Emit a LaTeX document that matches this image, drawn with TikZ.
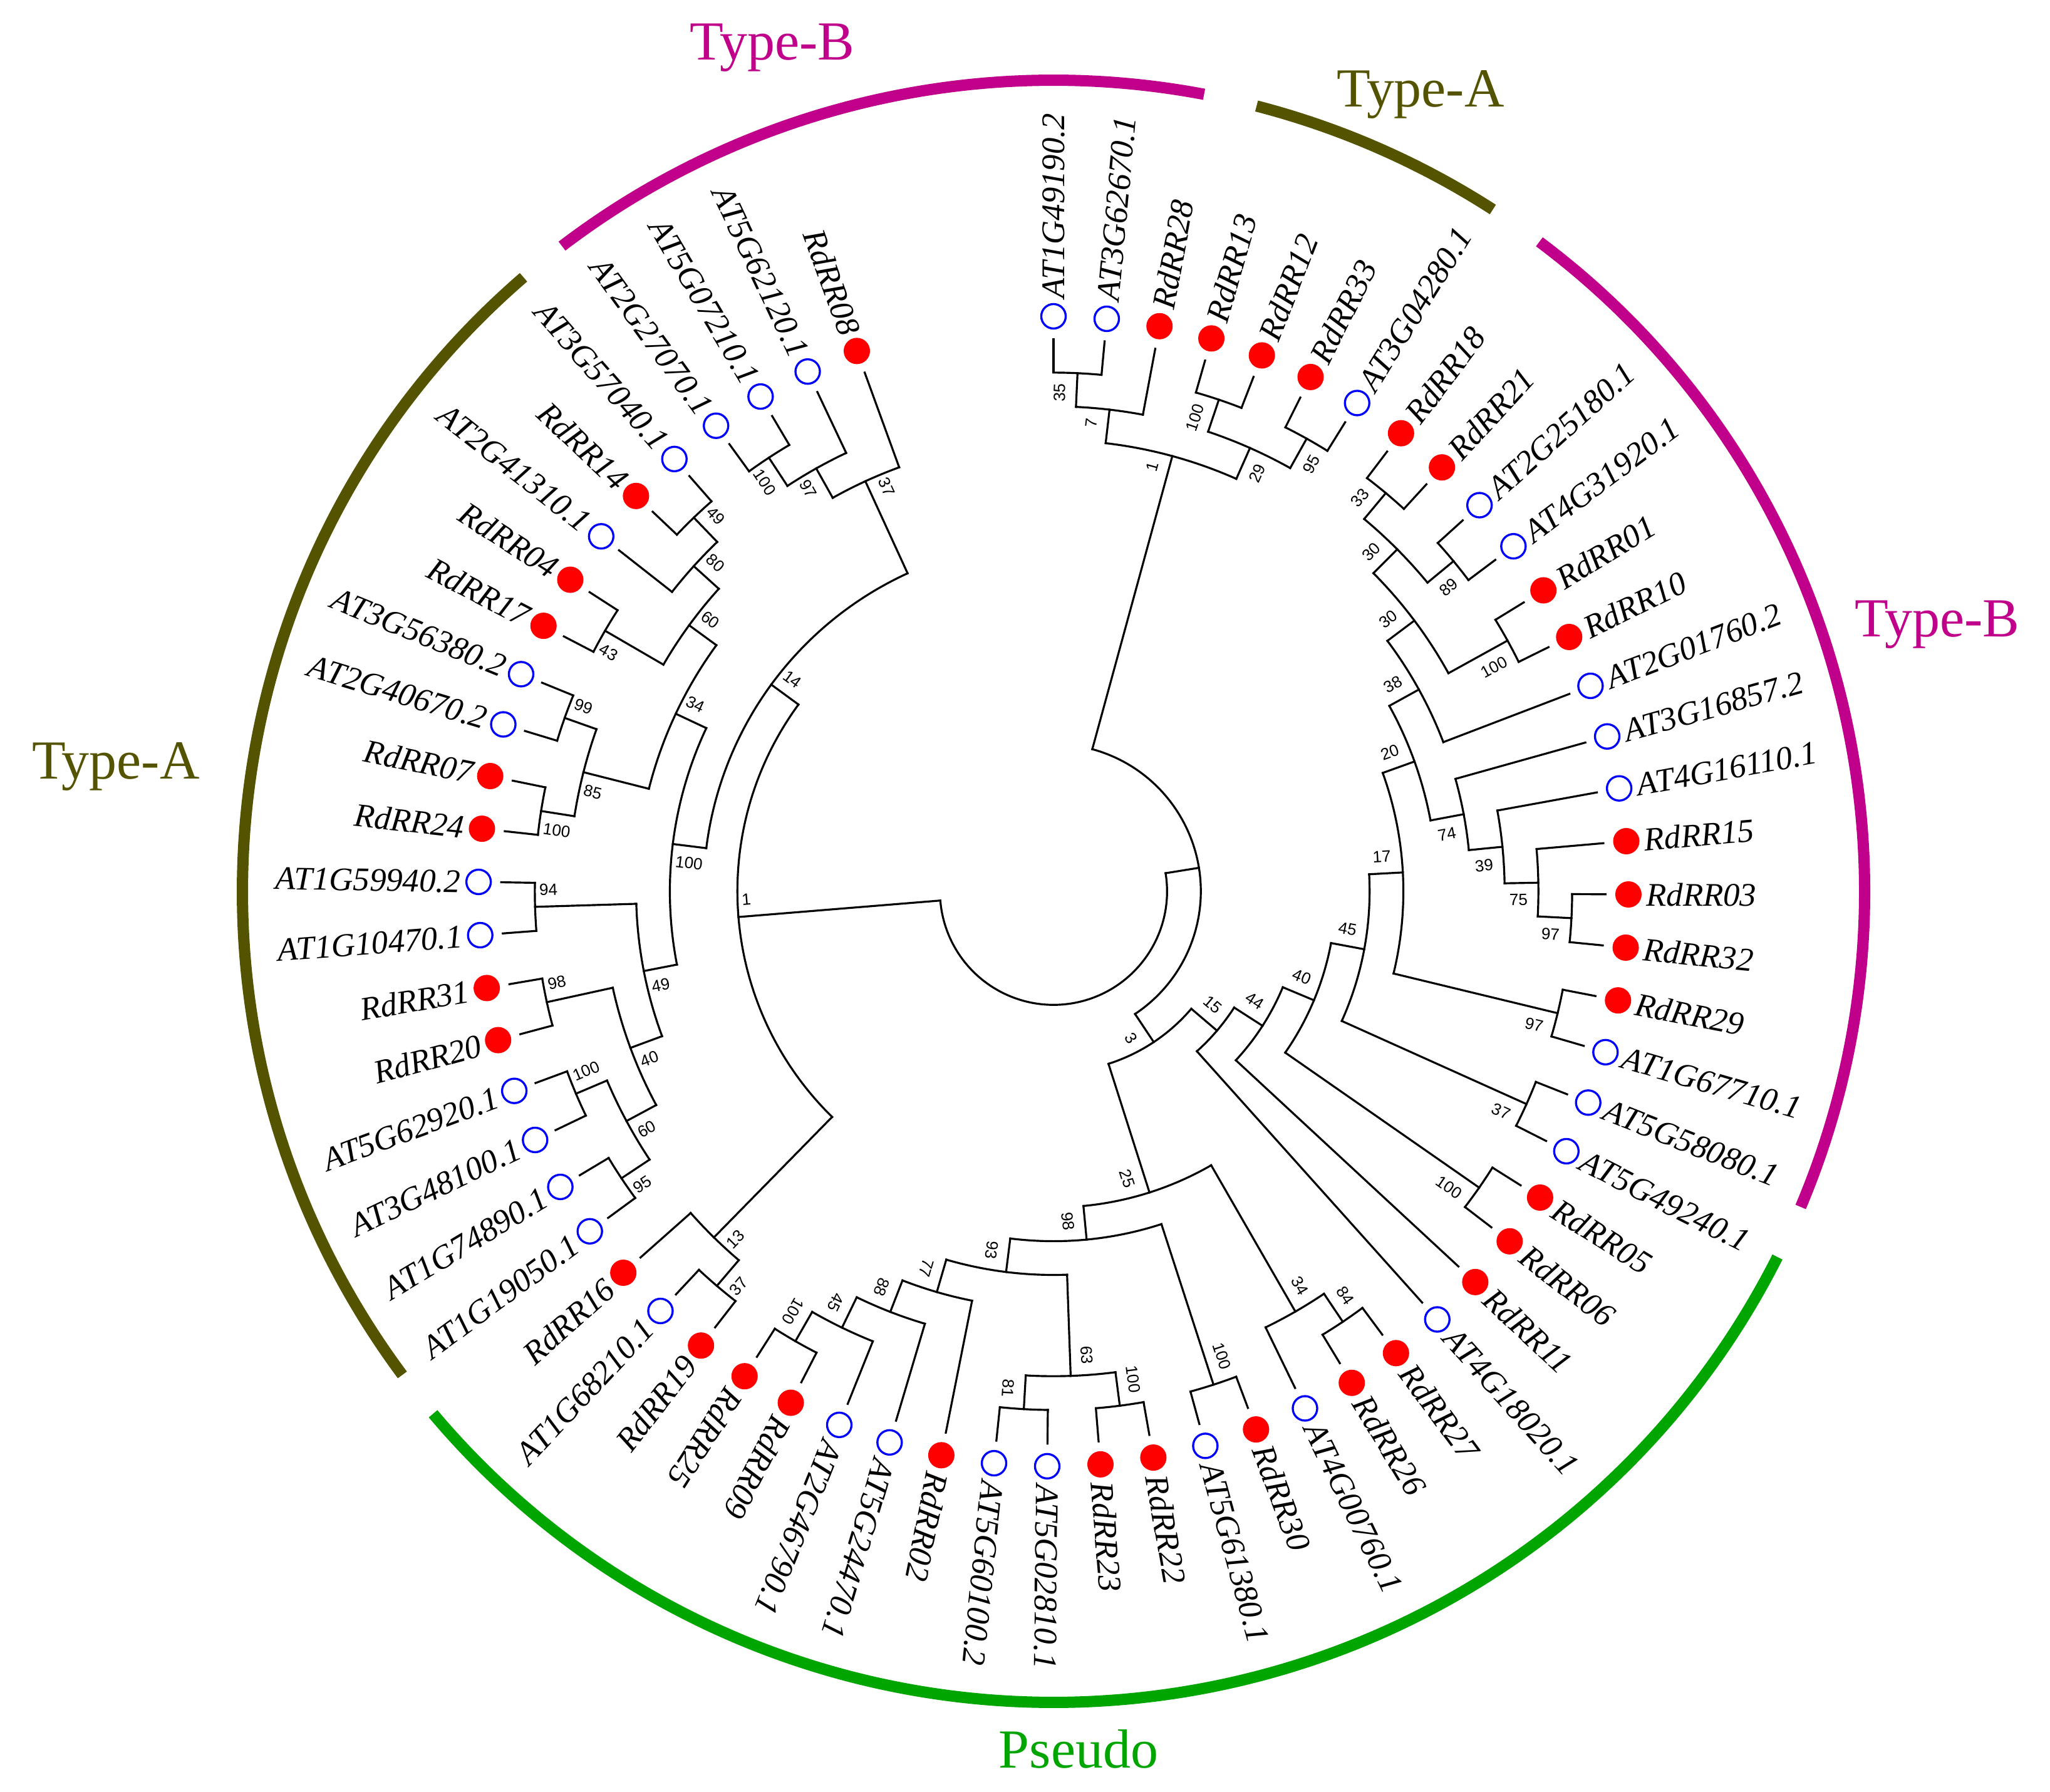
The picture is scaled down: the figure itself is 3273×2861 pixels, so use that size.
\documentclass[tikz,border=0pt]{standalone}
\usepackage{fontspec}
\setmainfont{Liberation Serif}
\newfontfamily\bootfont{Liberation Sans}
\usetikzlibrary{calc}
\definecolor{typeBcol}{RGB}{192,0,138}
\definecolor{typeAcol}{RGB}{84,84,0}
\definecolor{pseudocol}{RGB}{0,165,0}
\def\dang{5.3125}
\tikzset{
  branch/.style={line width=0.9pt, line cap=rect},
  rdot/.style={circle, fill=red, minimum size=0.42cm, inner sep=0pt},
  bcirc/.style={circle, draw=blue, line width=0.95pt, minimum size=0.39cm, inner sep=0pt},
  lab/.style={font=\fontsize{15}{18}\selectfont\itshape, inner sep=0pt},
  leafR/.style={lab, anchor=west, rotate=\angL},
  leafL/.style={lab, anchor=east, rotate=\angL+180},
  boot/.style={font=\bootfont\fontsize{7.4}{9}\selectfont, inner ysep=0.17cm},
  bootra/.style={boot, inner xsep=0.17cm, anchor=south east, rotate=\angM},
  bootrb/.style={boot, inner xsep=0.17cm, anchor=north east, rotate=\angM},
  bootla/.style={boot, inner xsep=0.07cm, anchor=north west, rotate=\angM+180},
  bootlb/.style={boot, inner xsep=0.07cm, anchor=south west, rotate=\angM+180},
  grouparc/.style={line width=0.18cm},
  grouplab/.style={font=\fontsize{25}{30}\selectfont, anchor=base},
}
% clade: name, first child, last child, level, parent level, bootstrap, label style
\newcommand\clade[7]{%
  \pgfmathsetmacro\angA{90-(#2-1)*\dang}
  \pgfmathsetmacro\angB{90-(#3-1)*\dang}
  \pgfmathsetmacro\angM{90-((#2+#3)/2-1)*\dang}
  \pgfmathsetmacro\radN{882-53.9*#4}
  \pgfmathsetmacro\radP{882-53.9*#5}
  \coordinate (#1) at (\angM:\radN);
  \draw[branch] (\angA:\radN) arc[start angle=\angA, end angle=\angB, radius=\radN];
  \draw[branch] (\angM:\radP) -- (#1);
  \if\relax\detokenize{#6}\relax\else\node[#7] (b#1) at (#1) {#6};\fi
}
% leaf: index, marker, name, parent level, side
\newcommand\leaf[5]{%
  \pgfmathsetmacro\angL{90-(#1-1)*\dang}
  \pgfmathsetmacro\radP{882-53.9*#4}
  \node[#2] (l#1) at (\angL:918) {};
  \draw[branch, shorten >=0.15cm] (\angL:\radP) -- (l#1);
  \node[leaf#5] (t#1) at (\angL:946) {#3};
}

\begin{document}
\begin{tikzpicture}[x=0.01cm, y=0.01cm]
\useasboundingbox (-1682,-1438) rectangle (1591,1423);
%%%%% ROOT %%%%%
\pgfmathsetmacro\angA{90-(16.214599609375-1)*\dang}
\pgfmathsetmacro\angB{90-(50.9453125-1)*\dang}
\pgfmathsetmacro\angM{90-(33.580078125-1)*\dang}
\coordinate (root) at (\angM:181.3);
\draw[branch] (\angA:181.3) arc[start angle=\angA, end angle=\angB, radius=181.3];
\clade{nA2}{3.875}{28.55419921875}{12}{13}{}{bootra}

%%%%% TOP CLADE %%%%%
\clade{n35a}{1}{2}{1}{2}{35}{bootra}
\clade{n7a}{1.5}{3}{2}{3}{7}{bootra}
\clade{n100a}{4}{5}{1}{2}{100}{bootra}
\clade{n95a}{6}{7}{1}{2}{95}{bootrb}
\clade{n29a}{4.5}{6.5}{2}{3}{29}{bootrb}
\clade{n1a}{2.25}{5.5}{3}{12}{1}{bootra}

%%%%% RIGHT CLADE %%%%%
\clade{n33a}{8}{9}{1}{2}{33}{bootra}
\clade{n89a}{10}{11}{1}{2}{89}{bootrb}
\clade{n30a}{8.5}{10.5}{2}{3}{30}{bootra}
\clade{n100b}{12}{13}{1}{3}{100}{bootrb}
\clade{n30b}{9.5}{12.5}{3}{4}{30}{bootra}
\clade{n38a}{11}{14}{4}{5}{38}{bootra}
\clade{n97a}{18}{19}{1}{2}{97}{bootrb}
\clade{n75a}{17}{18.5}{2}{3}{75}{bootrb}
\clade{n39a}{16}{17.75}{3}{4}{39}{bootrb}
\clade{n74a}{15}{16.875}{4}{5}{74}{bootrb}
\clade{n20a}{12.5}{15.9375}{5}{6}{20}{bootra}
\clade{n97b}{20}{21}{1}{6}{97}{bootrb}
\clade{n17a}{14.21875}{20.5}{6}{7}{17}{bootra}
\clade{n37a}{22}{23}{1}{7}{37}{bootrb}
\clade{n45a}{17.359375}{22.5}{7}{8}{45}{bootra}
\clade{n100c}{24}{25}{1}{8}{100}{bootrb}
\clade{n40a}{19.9296875}{24.5}{8}{9}{40}{bootra}
\clade{n44a}{22.21484375}{26}{9}{10}{44}{bootra}
\clade{n15a}{24.107421875}{27}{10}{11}{15}{bootra}

%%%%% BOTTOM CLADE %%%%%
\clade{n84a}{28}{29}{1}{2}{84}{bootra}
\clade{n34a}{28.5}{30}{2}{7}{34}{bootra}
\clade{n100e}{31}{32}{1}{6}{100}{bootra}
\clade{n100f}{33}{34}{1}{2}{100}{bootra}
\clade{n81a}{35}{36}{1}{2}{81}{bootrb}
\clade{n63a}{33.5}{35.5}{2}{5}{63}{bootra}
\clade{n100g}{40}{41}{1}{2}{100}{bootrb}
\clade{n45b}{39}{40.5}{2}{3}{45}{bootrb}
\clade{n88a}{38}{39.75}{3}{4}{88}{bootrb}
\clade{n77a}{37}{38.875}{4}{5}{77}{bootrb}
\clade{n93a}{34.5}{37.9375}{5}{6}{93}{bootrb}
\clade{n98a}{31.5}{36.21875}{6}{7}{98}{bootrb}
\clade{n25a}{29.25}{33.859375}{7}{11}{25}{bootrb}
\clade{n3a}{25.5537109375}{31.5546875}{11}{12}{3}{bootrb}

%%%%% LEFT CLADE %%%%%
\clade{n37c}{42}{43}{1}{2}{37}{bootla}
\clade{n13a}{42.5}{44}{2}{7}{13}{bootla}
\clade{n95b}{45}{46}{1}{2}{95}{bootla}
\clade{n100k}{47}{48}{1}{2}{100}{bootlb}
\clade{n60b}{45.5}{47.5}{2}{3}{60}{bootla}
\clade{n98b}{49}{50}{1}{3}{98}{bootlb}
\clade{n40b}{46.5}{49.5}{3}{4}{40}{bootla}
\clade{n94a}{51}{52}{1}{4}{94}{bootlb}
\clade{n49b}{48}{51.5}{4}{5}{49}{bootla}
\clade{n100j}{53}{54}{1}{2}{100}{bootla}
\clade{n99a}{55}{56}{1}{2}{99}{bootlb}
\clade{n85a}{53.5}{55.5}{2}{4}{85}{bootla}
\clade{n43a}{57}{58}{1}{3}{43}{bootla}
\clade{n49c}{60}{61}{1}{2}{49}{bootlb}
\clade{n80a}{59}{60.5}{2}{3}{80}{bootlb}
\clade{n60c}{57.5}{59.75}{3}{4}{60}{bootlb}
\clade{n34b}{54.5}{58.625}{4}{5}{34}{bootlb}
\clade{n100l}{49.75}{56.5625}{5}{6}{100}{bootla}
\clade{n100i}{62}{63}{1}{2}{100}{bootla}
\clade{n97c}{62.5}{64}{2}{3}{97}{bootla}
\clade{n37d}{63.25}{65}{3}{6}{37}{bootlb}
\clade{n14a}{53.15625}{64.125}{6}{7}{14}{bootlb}
\clade{n1b}{43.25}{58.640625}{7}{13}{1}{bootlb}

%%%%% LEAVES %%%%%
\leaf{1}{bcirc}{AT1G49190.2}{1}{R}
\leaf{2}{bcirc}{AT3G62670.1}{1}{R}
\leaf{3}{rdot}{RdRR28}{2}{R}
\leaf{4}{rdot}{RdRR13}{1}{R}
\leaf{5}{rdot}{RdRR12}{1}{R}
\leaf{6}{rdot}{RdRR33}{1}{R}
\leaf{7}{bcirc}{AT3G04280.1}{1}{R}
\leaf{8}{rdot}{RdRR18}{1}{R}
\leaf{9}{rdot}{RdRR21}{1}{R}
\leaf{10}{bcirc}{AT2G25180.1}{1}{R}
\leaf{11}{bcirc}{AT4G31920.1}{1}{R}
\leaf{12}{rdot}{RdRR01}{1}{R}
\leaf{13}{rdot}{RdRR10}{1}{R}
\leaf{14}{bcirc}{AT2G01760.2}{4}{R}
\leaf{15}{bcirc}{AT3G16857.2}{4}{R}
\leaf{16}{bcirc}{AT4G16110.1}{3}{R}
\leaf{17}{rdot}{RdRR15}{2}{R}
\leaf{18}{rdot}{RdRR03}{1}{R}
\leaf{19}{rdot}{RdRR32}{1}{R}
\leaf{20}{rdot}{RdRR29}{1}{R}
\leaf{21}{bcirc}{AT1G67710.1}{1}{R}
\leaf{22}{bcirc}{AT5G58080.1}{1}{R}
\leaf{23}{bcirc}{AT5G49240.1}{1}{R}
\leaf{24}{rdot}{RdRR05}{1}{R}
\leaf{25}{rdot}{RdRR06}{1}{R}
\leaf{26}{rdot}{RdRR11}{9}{R}
\leaf{27}{bcirc}{AT4G18020.1}{10}{R}
\leaf{28}{rdot}{RdRR27}{1}{R}
\leaf{29}{rdot}{RdRR26}{1}{R}
\leaf{30}{bcirc}{AT4G00760.1}{2}{R}
\leaf{31}{rdot}{RdRR30}{1}{R}
\leaf{32}{bcirc}{AT5G61380.1}{1}{R}
\leaf{33}{rdot}{RdRR22}{1}{R}
\leaf{34}{rdot}{RdRR23}{1}{R}
\leaf{35}{bcirc}{AT5G02810.1}{1}{R}
\leaf{36}{bcirc}{AT5G60100.2}{1}{R}
\leaf{37}{rdot}{RdRR02}{4}{R}
\leaf{38}{bcirc}{AT5G24470.1}{3}{R}
\leaf{39}{bcirc}{AT2G46790.1}{2}{R}
\leaf{40}{rdot}{RdRR09}{1}{R}
\leaf{41}{rdot}{RdRR25}{1}{R}
\leaf{42}{rdot}{RdRR19}{1}{L}
\leaf{43}{bcirc}{AT1G68210.1}{1}{L}
\leaf{44}{rdot}{RdRR16}{2}{L}
\leaf{45}{bcirc}{AT1G19050.1}{1}{L}
\leaf{46}{bcirc}{AT1G74890.1}{1}{L}
\leaf{47}{bcirc}{AT3G48100.1}{1}{L}
\leaf{48}{bcirc}{AT5G62920.1}{1}{L}
\leaf{49}{rdot}{RdRR20}{1}{L}
\leaf{50}{rdot}{RdRR31}{1}{L}
\leaf{51}{bcirc}{AT1G10470.1}{1}{L}
\leaf{52}{bcirc}{AT1G59940.2}{1}{L}
\leaf{53}{rdot}{RdRR24}{1}{L}
\leaf{54}{rdot}{RdRR07}{1}{L}
\leaf{55}{bcirc}{AT2G40670.2}{1}{L}
\leaf{56}{bcirc}{AT3G56380.2}{1}{L}
\leaf{57}{rdot}{RdRR17}{1}{L}
\leaf{58}{rdot}{RdRR04}{1}{L}
\leaf{59}{bcirc}{AT2G41310.1}{2}{L}
\leaf{60}{rdot}{RdRR14}{1}{L}
\leaf{61}{bcirc}{AT3G57040.1}{1}{L}
\leaf{62}{bcirc}{AT2G27070.1}{1}{L}
\leaf{63}{bcirc}{AT5G07210.1}{1}{L}
\leaf{64}{bcirc}{AT5G62120.1}{2}{L}
\leaf{65}{rdot}{RdRR08}{3}{L}

%%%%% GROUPS %%%%%
\draw[grouparc, typeBcol] (127.3:1295) arc[start angle=127.3, end angle=79.3, radius=1295];
\draw[grouparc, typeAcol] (75.5:1295) arc[start angle=75.5, end angle=57.2, radius=1295];
\draw[grouparc, typeBcol] (53.2:1295) arc[start angle=53.2, end angle=-22.9, radius=1295];
\draw[grouparc, pseudocol] (-26.8:1295) arc[start angle=-26.8, end angle=-139.9, radius=1295];
\draw[grouparc, typeAcol] (216.6:1295) arc[start angle=216.6, end angle=130.8, radius=1295];
\node[grouplab, typeBcol] (gB1) at (-449,1327) {Type-B};
\node[grouplab, typeAcol] (gA1) at (586,1252) {Type-A};
\node[grouplab, typeBcol] (gB2) at (1411,406) {Type-B};
\node[grouplab, typeAcol] (gA2) at (-1497,179) {Type-A};
\node[grouplab, pseudocol] (gP) at (40,-1399) {Pseudo};
\end{tikzpicture}
\end{document}
